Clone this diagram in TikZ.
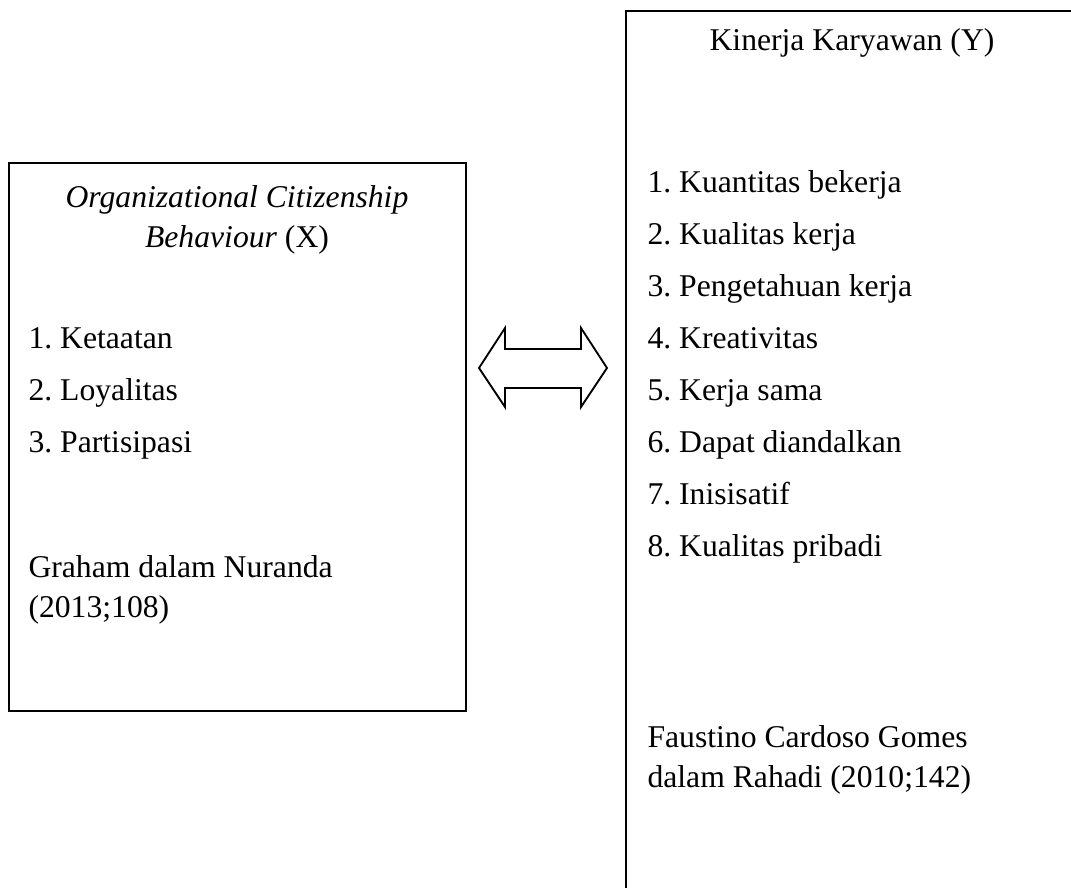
\documentclass[tikz,border=0pt]{standalone}
\usepackage{fontspec}
\setmainfont{Liberation Serif}
\usetikzlibrary{positioning}
\frenchspacing

\begin{document}
\begin{tikzpicture}[x=0.379pt, y=-0.379pt, node distance=8.2pt and 0pt]
    \tikzset{
        txt/.style={inner sep=0pt, font=\fontsize{12}{14.8}\selectfont, text height=8.4pt, text depth=2.7pt},
        item/.style={txt, anchor=west},
        frame/.style={draw, line width=0.7pt, inner sep=0pt, anchor=north west}
    }
    \useasboundingbox (0,0) rectangle (1071,888);
    \clip (0,0) rectangle (1071,888);

    % the two frames
    \node (ocbBox) [frame, minimum width=173.2pt, minimum height=207.7pt] at (8,162) {};
    \node (kinBox) [frame, minimum width=172.1pt, minimum height=337.3pt] at (625,10) {};

    % left frame
    \node (ocbTitle) [txt] at (237,200) {\textit{Organizational Citizenship}};
    \node (ocbTitleB) [txt, below=3.7pt of ocbTitle] {\textit{Behaviour} (X)};
    \node (x1) [item] at (28,341) {1. Ketaatan};
    \node (x2) [txt, below right=8.2pt and 0pt of x1.south west] {2. Loyalitas};
    \node (x3) [txt, below right=8.2pt and 0pt of x2.south west] {3. Partisipasi};
    \node (ocbSrc) [item] at (28,570) {Graham dalam Nuranda};
    \node (ocbSrcB) [txt, below right=3.7pt and 0pt of ocbSrc.south west] {(2013;108)};

    % right frame
    \node (kinTitle) [txt] at (852,43) {Kinerja Karyawan (Y)};
    \node (y1) [item] at (647,185) {1. Kuantitas bekerja};
    \node (y2) [txt, below right=8.2pt and 0pt of y1.south west] {2. Kualitas kerja};
    \node (y3) [txt, below right=8.2pt and 0pt of y2.south west] {3. Pengetahuan kerja};
    \node (y4) [txt, below right=8.2pt and 0pt of y3.south west] {4. Kreativitas};
    \node (y5) [txt, below right=8.2pt and 0pt of y4.south west] {5. Kerja sama};
    \node (y6) [txt, below right=8.2pt and 0pt of y5.south west] {6. Dapat diandalkan};
    \node (y7) [txt, below right=8.2pt and 0pt of y6.south west] {7. Inisisatif};
    \node (y8) [txt, below right=8.2pt and 0pt of y7.south west] {8. Kualitas pribadi};
    \node (kinSrc) [item] at (647,740) {Faustino Cardoso Gomes};
    \node (kinSrcB) [txt, below right=3.7pt and 0pt of kinSrc.south west] {dalam Rahadi (2010;142)};

    % double arrow between the frames
    \coordinate (link) at (543,368);
    \draw [line width=0.7pt, line join=miter] (link) ++(-64,0) -- ++(26,-40) -- ++(0,21) -- ++(76,0)
        -- ++(0,-21) -- ++(26,40) -- ++(-26,39) -- ++(0,-19) -- ++(-76,0) -- ++(0,19) -- cycle;

\end{tikzpicture}
\end{document}
